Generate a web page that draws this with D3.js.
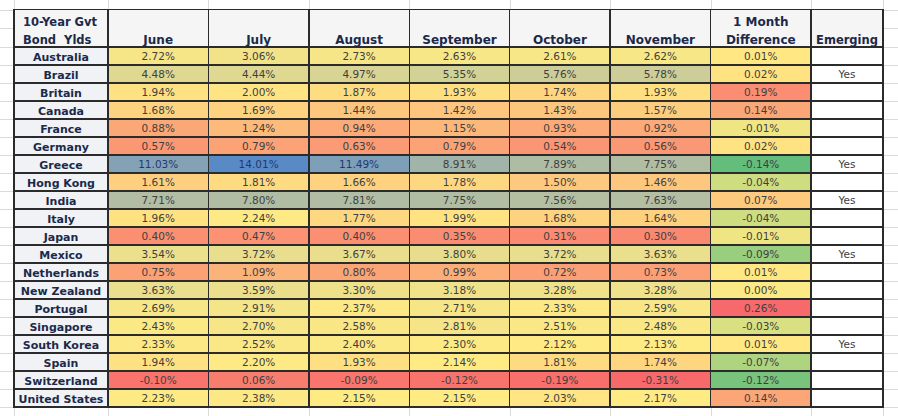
<!DOCTYPE html>
<html><head><meta charset="utf-8">
<script src="https://cdn.jsdelivr.net/npm/d3@7"></script>
<style>
html,body{margin:0;padding:0;background:#fff;}
svg{display:block;}
</style></head>
<body><svg id="chart" width="898" height="416"></svg>
<script>
const countries = ["Australia","Brazil","Britain","Canada","France","Germany","Greece","Hong Kong","India","Italy","Japan","Mexico","Netherlands","New Zealand","Portugal","Singapore","South Korea","Spain","Switzerland","United States"];
const months = ["June","July","August","September","October","November"];
const june = [2.72,4.48,1.94,1.68,0.88,0.57,11.03,1.61,7.71,1.96,0.40,3.54,0.75,3.63,2.69,2.43,2.33,1.94,-0.10,2.23];
const july = [3.06,4.44,2.00,1.69,1.24,0.79,14.01,1.81,7.80,2.24,0.47,3.72,1.09,3.59,2.91,2.70,2.52,2.20,0.06,2.38];
const august = [2.73,4.97,1.87,1.44,0.94,0.63,11.49,1.66,7.81,1.77,0.40,3.67,0.80,3.30,2.37,2.58,2.40,1.93,-0.09,2.15];
const september = [2.63,5.35,1.93,1.42,1.15,0.79,8.91,1.78,7.75,1.99,0.35,3.80,0.99,3.18,2.71,2.81,2.30,2.14,-0.12,2.15];
const october = [2.61,5.76,1.74,1.43,0.93,0.54,7.89,1.50,7.56,1.68,0.31,3.72,0.72,3.28,2.33,2.51,2.12,1.81,-0.19,2.03];
const november = [2.62,5.78,1.93,1.57,0.92,0.56,7.75,1.46,7.63,1.64,0.30,3.63,0.73,3.28,2.59,2.48,2.13,1.74,-0.31,2.17];
const difference = [0.01,0.02,0.19,0.14,-0.01,0.02,-0.14,-0.04,0.07,-0.04,-0.01,-0.09,0.01,0.00,0.26,-0.03,0.01,-0.07,-0.12,0.14];
const emerging = ["","Yes","","","","","Yes","","Yes","","","Yes","","","","","Yes","","",""];
const headerTitle = ["10-Year Gvt","Bond  Ylds"];
const diffHeader = ["1 Month","Difference"];
const emergingHeader = "Emerging";

const monthSeries = [june,july,august,september,october,november];

const svg = d3.select("#chart");
const W = 898, H = 416;
const tableLeft = 14, labelRight = 108, diffRight = 811, tableRight = 883;
const tableTop = 9.5, headerBottom = 47, tableBottom = 407;

const valueCols = months.concat(["diff"]);
const x = d3.scaleBand().domain(valueCols).range([labelRight, diffRight]);
const y = d3.scaleBand().domain(countries).range([headerBottom, tableBottom]);

// Excel-like colour scales
const allVals = [].concat(...monthSeries);
const sorted = allVals.slice().sort(d3.ascending);
const vMin = d3.min(allVals), vMax = d3.max(allVals), vMid = d3.quantile(sorted, 0.5);
const monthColor = d3.scaleLinear().domain([vMin, vMid, vMax]).range(["#F8696B","#FFEB84","#5A8AC6"]).interpolate(d3.interpolateRgb);
const dSorted = difference.slice().sort(d3.ascending);
const diffColor = d3.scaleLinear().domain([d3.min(difference), d3.quantile(dSorted,0.5), d3.max(difference)]).range(["#63BE7B","#FFEB84","#F8696B"]).interpolate(d3.interpolateRgb);

// background spreadsheet gridlines
const grid = svg.append("g").attr("stroke","#DADADA").attr("stroke-width",1).attr("shape-rendering","crispEdges");
const colEdges = [tableLeft, labelRight].concat(valueCols.map(c => x(c) + x.bandwidth())).concat([tableRight]);
colEdges.forEach(cx => {
  grid.append("line").attr("x1",Math.round(cx)+0.5).attr("x2",Math.round(cx)+0.5).attr("y1",0).attr("y2",H);
});
const rowEdges = [tableTop, 28, headerBottom].concat(countries.map(c => y(c)+y.bandwidth()));
rowEdges.forEach(ry => {
  grid.append("line").attr("x1",0).attr("x2",tableLeft).attr("y1",Math.round(ry)+0.5).attr("y2",Math.round(ry)+0.5);
  grid.append("line").attr("x1",tableRight).attr("x2",W).attr("y1",Math.round(ry)+0.5).attr("y2",Math.round(ry)+0.5);
});

// header background
svg.append("rect").attr("x",tableLeft).attr("y",tableTop).attr("width",tableRight-tableLeft).attr("height",headerBottom-tableTop).attr("fill","#F5F5F5");
// label column background
svg.append("rect").attr("x",tableLeft).attr("y",headerBottom).attr("width",labelRight-tableLeft).attr("height",tableBottom-headerBottom).attr("fill","#F1F2F5");
// emerging column background
svg.append("rect").attr("x",diffRight).attr("y",headerBottom).attr("width",tableRight-diffRight).attr("height",tableBottom-headerBottom).attr("fill","#FFFFFF");

// cells
const cellG = svg.append("g");
countries.forEach((c, i) => {
  months.forEach((m, j) => {
    cellG.append("rect").attr("x",x(m)).attr("y",y(c)).attr("width",x.bandwidth()).attr("height",y.bandwidth())
      .attr("fill", monthColor(monthSeries[j][i]));
  });
  cellG.append("rect").attr("x",x("diff")).attr("y",y(c)).attr("width",x.bandwidth()).attr("height",y.bandwidth())
    .attr("fill", diffColor(difference[i]));
});

// borders
const bord = svg.append("g").attr("stroke","#2b2b2b").attr("shape-rendering","crispEdges");
rowEdges.slice(3, -1).forEach(ry => {
  bord.append("line").attr("x1",tableLeft).attr("x2",tableRight).attr("y1",ry).attr("y2",ry).attr("stroke-width",1.2);
});
colEdges.slice(1,-1).forEach(cx => {
  bord.append("line").attr("x1",cx).attr("x2",cx).attr("y1",tableTop).attr("y2",tableBottom).attr("stroke-width",1.3);
});
bord.append("line").attr("x1",tableLeft).attr("x2",tableRight).attr("y1",headerBottom).attr("y2",headerBottom).attr("stroke-width",2);
bord.append("rect").attr("x",tableLeft).attr("y",tableTop).attr("width",tableRight-tableLeft).attr("height",tableBottom-tableTop)
  .attr("fill","none").attr("stroke-width",1.8);

// header text
const hdr = svg.append("g").attr("font-family","'DejaVu Sans', Verdana, sans-serif").attr("font-weight","bold")
  .attr("font-size","12px").attr("fill","#1B2A4A");
hdr.append("text").attr("x",tableLeft+9).attr("y",26).attr("font-size","11.5px").text(headerTitle[0]);
hdr.append("text").attr("x",tableLeft+9).attr("y",44).attr("font-size","11.5px").attr("xml:space","preserve").text(headerTitle[1]);
months.forEach(m => {
  hdr.append("text").attr("x",x(m)+x.bandwidth()/2).attr("y",44).attr("text-anchor","middle").text(m);
});
hdr.append("text").attr("x",x("diff")+x.bandwidth()/2).attr("y",26).attr("text-anchor","middle").text(diffHeader[0]);
hdr.append("text").attr("x",x("diff")+x.bandwidth()/2).attr("y",44).attr("text-anchor","middle").text(diffHeader[1]);
hdr.append("text").attr("x",(diffRight+tableRight)/2).attr("y",44).attr("text-anchor","middle").attr("font-size","11.5px").text(emergingHeader);

// row labels
const lab = svg.append("g").attr("font-family","'DejaVu Sans', Verdana, sans-serif").attr("font-weight","bold")
  .attr("font-size","11px").attr("fill","#1B2A4A").attr("text-anchor","middle");
countries.forEach(c => {
  lab.append("text").attr("x",(tableLeft+labelRight)/2).attr("y",y(c)+y.bandwidth()/2+4.5).text(c);
});

// values
const fmt = v => v.toFixed(2) + "%";
const val = svg.append("g").attr("font-family","'DejaVu Sans', Verdana, sans-serif")
  .attr("font-size","10.5px").attr("fill","#404040").attr("text-anchor","middle");
countries.forEach((c, i) => {
  months.forEach((m, j) => {
    const v = monthSeries[j][i];
    val.append("text").attr("x",x(m)+x.bandwidth()/2).attr("y",y(c)+y.bandwidth()/2+4)
      .attr("fill", v > 10 ? "#1F3A70" : null).text(fmt(v));
  });
  val.append("text").attr("x",x("diff")+x.bandwidth()/2).attr("y",y(c)+y.bandwidth()/2+4).text(fmt(difference[i]));
  if (emerging[i]) val.append("text").attr("x",(diffRight+tableRight)/2).attr("y",y(c)+y.bandwidth()/2+4).text(emerging[i]);
});
</script>
</body></html>
